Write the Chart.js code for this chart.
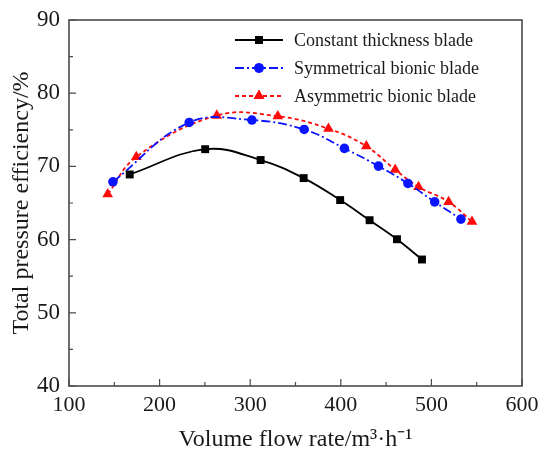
<!DOCTYPE html>
<html>
<head>
<meta charset="utf-8">
<script src="https://cdn.jsdelivr.net/npm/chart.js@4/dist/chart.umd.min.js"></script>
<style>
  html, body { margin: 0; padding: 0; background: #fff; }
  #wrap { width: 541px; height: 452px; }
</style>
</head>
<body>
<div id="wrap"><canvas id="c" width="541" height="452"></canvas></div>
<script>
// Total pressure efficiency vs. volume flow rate for three blade profiles
const seriesNames = ['Constant thickness blade', 'Symmetrical bionic blade', 'Asymmetric bionic blade'];

const constFlow = [167, 250.3, 311.5, 359, 399.3, 431.8, 462, 489.6];
const constEff  = [68.9, 72.35, 70.87, 68.4, 65.4, 62.65, 60.05, 57.28];

const symFlow = [148.5, 232.7, 301.9, 359.6, 404, 441.6, 474.1, 503.6, 532.6];
const symEff  = [67.9, 76.0, 76.33, 75.05, 72.46, 70.04, 67.67, 65.16, 62.8];

const asymFlow = [142.7, 174.3, 263.1, 330.5, 386.4, 428.2, 460, 485.8, 519, 544.8];
const asymEff  = [66.2, 71.3, 76.95, 76.85, 75.15, 72.75, 69.55, 67.2, 65.16, 62.45];

const xTicks = [100, 200, 300, 400, 500, 600];
const yTicks = [40, 50, 60, 70, 80, 90];

const xy = (xs, ys) => xs.map((x, i) => ({ x: x, y: ys[i] }));

const serif = "'Liberation Serif', 'Times New Roman', serif";
const axisColor = '#4a4a4a';
const textColor = '#1a1a1a';

const styles = [
  { color: '#000000', dash: [], point: 'rect', radius: 5.6 },
  { color: '#0a14ff', dash: [9, 3, 2, 3], point: 'circle', radius: 4.8 },
  { color: '#ff0a0a', dash: [4, 3], point: 'triangle', radius: 6.2 }
];

const dataSets = [xy(constFlow, constEff), xy(symFlow, symEff), xy(asymFlow, asymEff)];

// Box frame, inward major/minor ticks and in-plot legend
const framePlugin = {
  id: 'frame',
  afterDraw(chart) {
    const { ctx, chartArea: a, scales } = chart;
    const xs = scales.x, ys = scales.y;
    ctx.save();
    ctx.strokeStyle = axisColor;
    ctx.lineWidth = 1.6;
    ctx.strokeRect(a.left, a.top, a.right - a.left, a.bottom - a.top);

    ctx.lineWidth = 1.2;
    ctx.beginPath();
    for (let v = xs.min; v <= xs.max + 1e-6; v += 50) {
      const px = xs.getPixelForValue(v);
      const len = (v % 100 === 0) ? 7 : 4;
      ctx.moveTo(px, a.bottom);
      ctx.lineTo(px, a.bottom - len);
    }
    for (let v = ys.min; v <= ys.max + 1e-6; v += 5) {
      const py = ys.getPixelForValue(v);
      const len = (v % 10 === 0) ? 7 : 4;
      ctx.moveTo(a.left, py);
      ctx.lineTo(a.left + len, py);
    }
    ctx.stroke();

    // legend
    const lx0 = 235, lx1 = 283, tx = 294;
    const rows = [40, 68, 96];
    ctx.font = '18px ' + serif;
    ctx.textBaseline = 'middle';
    ctx.textAlign = 'left';
    chart.data.datasets.forEach((ds, i) => {
      const y = rows[i];
      const s = styles[i];
      ctx.strokeStyle = s.color;
      ctx.lineWidth = 1.8;
      ctx.setLineDash(s.dash);
      ctx.beginPath();
      ctx.moveTo(lx0, y);
      ctx.lineTo(lx1, y);
      ctx.stroke();
      ctx.setLineDash([]);
      ctx.fillStyle = s.color;
      Chart.helpers.drawPoint(ctx, { pointStyle: s.point, radius: s.radius, borderWidth: 0 }, (lx0 + lx1) / 2, y);
      ctx.fill();
      ctx.fillStyle = textColor;
      ctx.fillText(ds.label, tx, y + 1);
    });
    ctx.restore();
  }
};

new Chart(document.getElementById('c'), {
  type: 'line',
  data: {
    datasets: dataSets.map((d, i) => ({
      label: seriesNames[i],
      data: d,
      borderColor: styles[i].color,
      backgroundColor: styles[i].color,
      borderWidth: 1.8,
      borderDash: styles[i].dash,
      tension: 0.4,
      pointStyle: styles[i].point,
      pointRadius: styles[i].radius,
      pointBorderWidth: 0,
      pointBackgroundColor: styles[i].color,
      fill: false
    }))
  },
  options: {
    responsive: false,
    animation: false,
    layout: { padding: { left: 0, right: 19, top: 20, bottom: 0 } },
    plugins: { legend: { display: false }, tooltip: { enabled: false } },
    scales: {
      x: {
        type: 'linear',
        min: 100, max: 600,
        afterBuildTicks: s => { s.ticks = xTicks.map(v => ({ value: v })); },
        afterFit: s => { s.height = 66; s.paddingLeft = 0; s.paddingRight = 0; },
        grid: { display: false, drawTicks: false },
        border: { display: false },
        ticks: { color: textColor, font: { family: serif, size: 22 }, padding: 6, maxRotation: 0 },
        title: { display: true, text: 'Volume flow rate/m³·h⁻¹', color: textColor,
                 font: { family: serif, size: 24 }, padding: { top: 0, bottom: -2 } }
      },
      y: {
        type: 'linear',
        min: 40, max: 90,
        afterBuildTicks: s => { s.ticks = yTicks.map(v => ({ value: v })); },
        afterFit: s => { s.width = 69; s.paddingTop = 0; s.paddingBottom = 0; },
        grid: { display: false, drawTicks: false },
        border: { display: false },
        ticks: { color: textColor, font: { family: serif, size: 23 }, padding: 9 },
        title: { display: true, text: 'Total pressure efficiency/%', color: textColor,
                 font: { family: serif, size: 24 }, padding: { top: 7, bottom: 0 } }
      }
    }
  },
  plugins: [framePlugin]
});
</script>
</body>
</html>
